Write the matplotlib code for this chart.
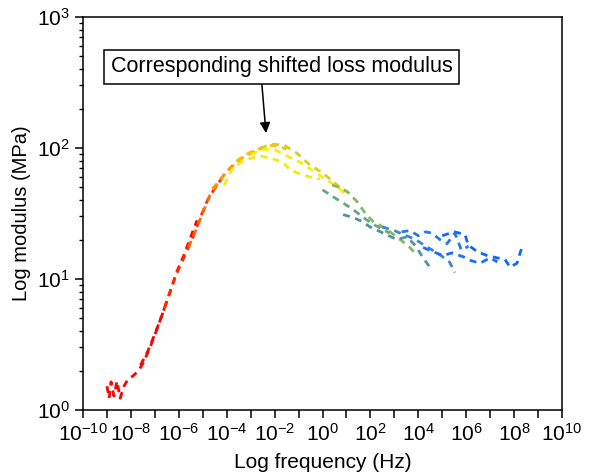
import numpy as np
import matplotlib
matplotlib.use("Agg")
import matplotlib.pyplot as plt
from matplotlib.ticker import FixedLocator, NullFormatter, LogLocator

plt.rcParams['font.family'] = ['Liberation Sans', 'DejaVu Sans']
plt.rcParams['mathtext.fontset'] = 'custom'
plt.rcParams['mathtext.rm'] = 'Liberation Sans'
plt.rcParams['mathtext.it'] = 'Liberation Sans'

# log10 of frequency (Hz) and loss modulus (MPa) for each shifted segment, low -> high frequency
f1 = [-9.0, -8.91, -8.83, -8.71, -8.58, -8.45, -8.29, -8.12, -7.91, -7.70, -7.49, -7.2, -6.9, -6.6]
g1 = [1.52, 1.23, 1.64, 1.28, 1.66, 1.23, 1.52, 1.72, 1.82, 1.98, 2.28, 3.0, 4.2, 6.0]
f2 = [-7.6, -7.3, -7.0, -6.7, -6.4, -6.1, -5.8, -5.5, -5.24]
g2 = [2.2, 2.8, 3.8, 5.3, 7.6, 11.2, 15, 21, 28]
f3 = [-6.6, -6.3, -6.0, -5.7, -5.4, -5.1, -4.8, -4.5, -4.2]
g3 = [6.0, 8.7, 12, 15.8, 21, 29.5, 40, 49, 59]
f4 = [-5.6, -5.3, -5.0, -4.7, -4.4, -4.1, -3.8, -3.5]
g4 = [17.4, 23.4, 32, 43.6, 52.5, 63, 72, 81]
f5 = [-4.6, -4.3, -4.0, -3.7, -3.4, -3.1, -2.8, -2.5]
g5 = [49, 56, 66, 74, 83, 89, 95, 100]
f6 = [-3.6, -3.3, -3.0, -2.7, -2.4, -2.1, -1.8, -1.5]
g6 = [79, 87, 93, 98, 102, 105, 102, 98]
f7 = [-4.1, -3.74, -3.24, -2.6, -2.1, -1.65, -1.36, -0.9, -0.52, -0.1]
g7 = [52, 71, 81, 87, 83, 78, 68, 63, 60, 58]
f8 = [-3.0, -2.5, -2.0, -1.5, -1.0, -0.5, 0.0, 0.5, 1.0]
g8 = [89, 98, 97, 87, 79, 69, 60, 52, 44]
f9 = [-2.6, -2.1, -1.6, -1.06, -0.52, -0.02, 0.31, 0.73, 1.06]
g9 = [100, 107, 105, 91, 74, 65, 58, 50, 46]
f10 = [0.4, 0.73, 1.06, 1.44, 1.77, 2.11, 2.4, 2.82, 3.24, 3.65, 3.95]
g10 = [52, 50, 46, 39, 32, 27.5, 25.7, 22.9, 20, 17.4, 15.1]
f11 = [0.0, 0.31, 0.86, 1.27, 1.65, 2.0, 2.4, 2.8]
g11 = [48, 44, 38, 34, 30, 27, 24.5, 22.4]
f12 = [0.86, 1.27, 1.65, 1.98, 2.53, 3.11, 3.53, 3.9, 4.2, 4.57]
g12 = [31, 29.5, 27.5, 25, 22.4, 20, 21, 17.8, 14.5, 11.7]
f13 = [2.5, 3.0, 3.5, 3.9, 4.3, 4.8, 5.3, 5.53]
g13 = [25, 23.4, 21.4, 20, 17.8, 15.8, 13.5, 11.2]
f14 = [3.3, 3.65, 4.0, 4.3, 4.57, 4.9, 5.2, 5.53, 5.8, 6.1]
g14 = [22.9, 23.4, 21.4, 22.9, 22.4, 20, 18.6, 22.4, 16.6, 17.8]
f15 = [4.2, 4.6, 5.03, 5.4, 5.87, 6.2, 6.58, 7.0, 7.3]
g15 = [17.4, 16.2, 15.1, 15.8, 14.8, 13.8, 13.2, 14.5, 13.5]
f16 = [5.0, 5.5, 5.95, 6.08, 6.45, 6.87, 7.29, 7.62, 7.83, 8.12, 8.25, 8.37]
g16 = [21.4, 22.9, 21.9, 18.2, 16.2, 15.1, 14.5, 14.1, 12.3, 13.2, 15.8, 18.2]

segments = [(f1, g1), (f2, g2), (f3, g3), (f4, g4), (f5, g5), (f6, g6), (f7, g7), (f8, g8),
            (f9, g9), (f10, g10), (f11, g11), (f12, g12), (f13, g13), (f14, g14), (f15, g15), (f16, g16)]
colors = ['#ff0000', '#ff0000', '#ff2a00', '#ff6a00', '#ff9a00', '#ffc000', '#f2ee00', '#ffee00',
          '#d0d030', '#88b860', '#6aa585', '#4f92a5', '#3f86c8', '#2a78e8', '#1a6dff', '#0f66ff']

x_exps = list(range(-10, 11))

fig = plt.figure(figsize=(5.93, 4.76), dpi=100)
ax = fig.add_axes([0.140, 0.1387, 0.8077, 0.8256])

for (f, g), c in zip(segments, colors):
    ax.plot(10.0 ** np.array(f), g, color=c, lw=2.0, ls=(0, (2.5, 2)))

ax.set_xscale('log')
ax.set_yscale('log')
ax.set_xlim(1e-10, 1e10)
ax.set_ylim(1, 1000)

ax.xaxis.set_major_locator(FixedLocator([10.0 ** e for e in x_exps]))
ax.set_xticklabels([r'$10^{%d}$' % e if e % 2 == 0 else '' for e in x_exps])
ax.xaxis.set_minor_locator(FixedLocator([]))
ax.yaxis.set_major_locator(FixedLocator([1, 10, 100, 1000]))
ax.set_yticklabels([r'$10^{%d}$' % e for e in range(4)])
ax.yaxis.set_minor_locator(LogLocator(base=10, subs=np.arange(2, 10)))
ax.yaxis.set_minor_formatter(NullFormatter())

ax.tick_params(which='major', direction='out', length=6, width=1.1, labelsize=15, top=False, right=False)
ax.tick_params(which='minor', direction='out', length=3, width=1.0, top=False, right=False)
for s in ax.spines.values():
    s.set_linewidth(1.1)

ax.set_xlabel('Log frequency (Hz)', fontsize=15, labelpad=6)
ax.set_ylabel('Log modulus (MPa)', fontsize=14.5, labelpad=4)

ax.annotate('Corresponding shifted loss modulus', xy=(10 ** -2.36, 130), xytext=(10 ** -1.7, 416),
            ha='center', va='center', fontsize=15.5,
            bbox=dict(boxstyle='square,pad=0.3', fc='white', ec='black', lw=1.1),
            arrowprops=dict(arrowstyle='-|>', color='black', lw=1.1, relpos=(0.44, 0), shrinkA=0, shrinkB=0))

fig.savefig('out.png', dpi=100)
